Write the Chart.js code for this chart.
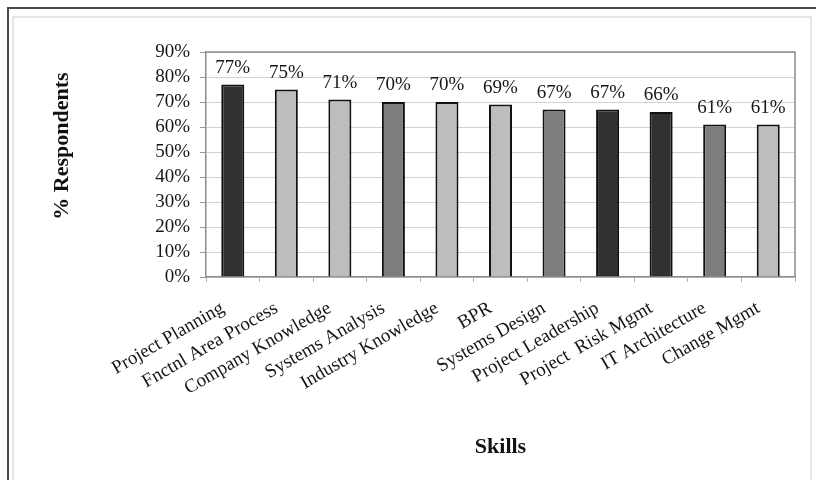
<!DOCTYPE html>
<html>
<head>
<meta charset="utf-8">
<script src="https://cdn.jsdelivr.net/npm/chart.js@4.4.1/dist/chart.umd.min.js"></script>
<style>
  html, body { margin: 0; padding: 0; background: #fff; overflow: hidden; }
  #wrap { position: relative; width: 816px; height: 480px; overflow: hidden; }
  #frame-outer { position: absolute; left: 7px; top: 7px; width: 900px; height: 600px; border: 2px solid #4a4a4a; }
  #frame-inner { position: absolute; left: 12px; top: 16px; width: 796px; height: 600px; border: 2px solid #e6e6e6; }
  #skills-chart { position: absolute; left: 0; top: 0; }
</style>
</head>
<body>
<div id="wrap">
  <div id="frame-outer"></div>
  <div id="frame-inner"></div>
  <canvas id="skills-chart" width="816" height="480"></canvas>
</div>
<script>
// Skills data
const skills = [
  'Project Planning', 'Fnctnl Area Process', 'Company Knowledge', 'Systems Analysis',
  'Industry Knowledge', 'BPR', 'Systems Design', 'Project Leadership',
  'Project  Risk Mgmt', 'IT Architecture', 'Change Mgmt'
];
const respondentsPct = [77, 75, 71, 70, 70, 69, 67, 67, 66, 61, 61];

// Three grey shades used for the bars
const DARK = '#313131';
const LIGHT = '#bdbdbd';
const MID = '#7d7d7d';
const barShades = [DARK, LIGHT, LIGHT, MID, LIGHT, LIGHT, MID, DARK, DARK, MID, LIGHT];

const yMin = 0;
const yMax = 90;
const yStep = 10;

const SERIF = '"Liberation Serif", "Times New Roman", serif';

// Percent labels above each bar
const barValueLabels = {
  id: 'barValueLabels',
  afterDatasetsDraw(chart) {
    const { ctx } = chart;
    const meta = chart.getDatasetMeta(0);
    ctx.save();
    ctx.font = '19px ' + SERIF;
    ctx.fillStyle = '#161616';
    ctx.textAlign = 'center';
    ctx.textBaseline = 'alphabetic';
    meta.data.forEach((bar, i) => {
      ctx.fillText(respondentsPct[i] + '%', bar.x, bar.y - 12);
    });
    ctx.restore();
  }
};

// Top and right edges of the plot box
const plotFrame = {
  id: 'plotFrame',
  beforeDatasetsDraw(chart) {
    const { ctx, chartArea: a } = chart;
    ctx.save();
    ctx.strokeStyle = '#8c8c8c';
    ctx.lineWidth = 1.5;
    ctx.beginPath();
    ctx.moveTo(a.left, a.top);
    ctx.lineTo(a.right, a.top);
    ctx.lineTo(a.right, a.bottom);
    ctx.stroke();
    ctx.restore();
  }
};

// Vertical axis title, sitting a little above the plot middle
const yAxisTitle = {
  id: 'yAxisTitle',
  afterDraw(chart) {
    const { ctx, chartArea: a } = chart;
    ctx.save();
    ctx.translate(62, a.top + 94);
    ctx.rotate(-Math.PI / 2);
    ctx.font = 'bold 22px ' + SERIF;
    ctx.fillStyle = '#111';
    ctx.textAlign = 'center';
    ctx.textBaseline = 'middle';
    ctx.fillText('% Respondents', 0, 0);
    ctx.restore();
  }
};

new Chart(document.getElementById('skills-chart'), {
  type: 'bar',
  data: {
    labels: skills,
    datasets: [{
      label: '% Respondents',
      data: respondentsPct,
      backgroundColor: barShades,
      borderColor: '#111',
      borderWidth: 2,
      barPercentage: 0.43,
      categoryPercentage: 1.0
    }]
  },
  options: {
    responsive: false,
    animation: false,
    devicePixelRatio: 1,
    layout: {
      padding: { left: 49, top: 52, right: 21, bottom: 19 }
    },
    plugins: {
      legend: { display: false },
      tooltip: { enabled: false }
    },
    scales: {
      x: {
        grid: {
          drawOnChartArea: false,
          drawTicks: true,
          tickLength: 5,
          tickColor: '#b0b0b0'
        },
        border: { color: '#8c8c8c', width: 1.5 },
        ticks: {
          minRotation: 30,
          maxRotation: 30,
          autoSkip: false,
          padding: 15,
          labelOffset: -10,
          color: '#161616',
          font: { family: SERIF, size: 19 }
        },
        title: {
          display: true,
          text: 'Skills',
          color: '#111',
          font: { family: SERIF, size: 22, weight: 'bold' },
          padding: 0
        },
        afterFit(scale) {
          scale.height = 184;
        }
      },
      y: {
        min: yMin,
        max: yMax,
        grid: {
          color: '#d2d2d2',
          lineWidth: 1,
          tickLength: 6,
          tickColor: '#9a9a9a'
        },
        border: { color: '#8c8c8c', width: 1.5 },
        ticks: {
          stepSize: yStep,
          autoSkip: false,
          padding: 10,
          color: '#161616',
          font: { family: SERIF, size: 19 },
          callback: value => value + '%'
        },
        afterFit(scale) {
          scale.width = 157;
        }
      }
    }
  },
  plugins: [plotFrame, barValueLabels, yAxisTitle]
});
</script>
</body>
</html>
